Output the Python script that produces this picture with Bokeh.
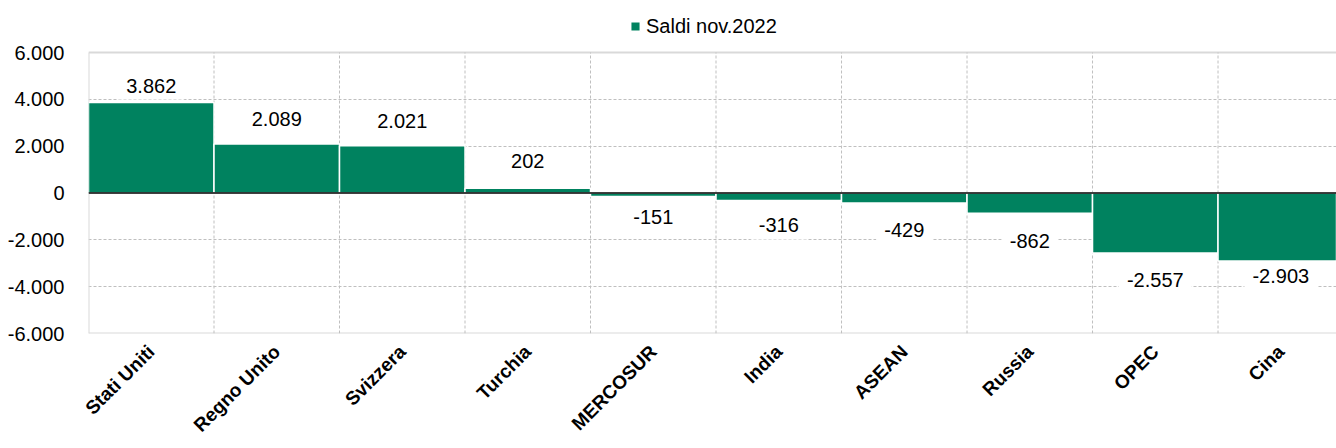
from bokeh.plotting import figure
from bokeh.models import (ColumnDataSource, Range1d, FixedTicker, Span, Legend, LegendItem)
from bokeh.core.properties import value
from bokeh.embed import file_html
from bokeh.resources import INLINE
import math

categories = ["Stati Uniti", "Regno Unito", "Svizzera", "Turchia", "MERCOSUR",
              "India", "ASEAN", "Russia", "OPEC", "Cina"]
saldi = [3862, 2089, 2021, 202, -151, -316, -429, -862, -2557, -2903]
y_ticks = [-6000, -4000, -2000, 0, 2000, 4000, 6000]
series_name = "Saldi nov.2022"

# label distance from bar end (px, away from bar)
label_shift = [17, 25, 25, 27, 20, 25, 27, 28, 27, 15]

FONT = "Liberation Sans"
GREEN = "#00825F"
GRID = "#BFBFBF"
BORDER = "#D9D9D9"

def fmt(v):
    return f"{v:,}".replace(",", ".")

# layout: plot area (y_ticks span) is 281 px tall, with 52 px of headroom for the legend
AREA_PX, HEAD_PX, BOTTOM_PX = 281, 52, 115
y_lo, y_hi = min(y_ticks), max(y_ticks)
y_top = y_hi + HEAD_PX / AREA_PX * (y_hi - y_lo)

xs = [i + 0.5 for i in range(len(categories))]
src = ColumnDataSource(dict(
    x=xs, top=saldi, lab=[fmt(v) for v in saldi],
    yoff=[(-s if v >= 0 else s) for v, s in zip(saldi, label_shift)],
))

p = figure(width=1336, height=448, output_backend="svg", toolbar_location=None,
           x_range=Range1d(0, 9.944), y_range=Range1d(y_lo, y_top),
           min_border_left=88, min_border_right=0, min_border_top=0,
           min_border_bottom=BOTTOM_PX)
p.outline_line_color = None
p.background_fill_color = "white"
p.xgrid.visible = False

# vertical grid lines between categories, within the plot area
bounds = list(range(1, len(categories)))
p.segment(x0=bounds, x1=bounds, y0=[y_lo] * len(bounds), y1=[y_hi] * len(bounds),
          line_color=GRID, line_dash="3 2", line_width=1)
# plot area left border
p.segment(x0=[0], x1=[0], y0=[y_lo], y1=[y_hi], line_color=BORDER, line_width=2)

bars = p.vbar(x="x", top="top", width=1.0, bottom=0, source=src,
              fill_color=GREEN, line_color="white", line_width=1.5)

p.text(x="x", y="top", text="lab", source=src, y_offset="yoff",
       text_font=value(FONT), text_font_size="20px", text_color="#000000",
       text_align="center", text_baseline="middle",
       background_fill_color="white",
       padding=dict(left=8, right=8, top=7, bottom=7))

# axes
p.yaxis.ticker = FixedTicker(ticks=y_ticks)
p.yaxis.major_label_overrides = {t: fmt(t) for t in y_ticks}
p.yaxis.axis_line_color = None
p.yaxis.major_tick_line_color = None
p.yaxis.minor_tick_line_color = None
p.yaxis.major_tick_out = 0
p.yaxis.major_label_standoff = 24
p.yaxis.major_label_text_font = FONT
p.yaxis.major_label_text_font_size = "20px"
p.yaxis.major_label_text_color = "#000000"

p.xaxis.ticker = FixedTicker(ticks=xs)
p.xaxis.major_label_overrides = {x: c for x, c in zip(xs, categories)}
p.xaxis.axis_line_color = None
p.xaxis.major_tick_line_color = None
p.xaxis.minor_tick_line_color = None
p.xaxis.major_tick_out = 0
p.xaxis.major_label_standoff = 15
p.xaxis.major_label_orientation = math.pi / 4
p.xaxis.major_label_text_font = FONT
p.xaxis.major_label_text_font_size = "19px"
p.xaxis.major_label_text_font_style = "bold"
p.xaxis.major_label_text_color = "#000000"

# horizontal grid
p.ygrid.ticker = FixedTicker(ticks=[t for t in y_ticks if t not in (0, y_lo, y_hi)])
p.ygrid.grid_line_color = GRID
p.ygrid.grid_line_dash = "3 2"
p.ygrid.grid_line_width = 1

# plot area border (top, bottom)
for loc in (y_hi, y_lo):
    p.add_layout(Span(location=loc, dimension="width", line_color=BORDER,
                      line_width=2, level="underlay"))
# zero line
p.add_layout(Span(location=0, dimension="width", line_color="#000000",
                  line_width=1.5))

legend = Legend(items=[LegendItem(label=series_name, renderers=[bars])],
                location=(541, AREA_PX + 14), orientation="horizontal",
                border_line_color=None, background_fill_alpha=0,
                padding=0, margin=0, glyph_width=12, glyph_height=12,
                label_standoff=5, label_text_font=FONT, label_height=24,
                label_text_font_size="20px", label_text_color="#000000")
p.add_layout(legend)

open("out.html", "w").write(file_html(p, INLINE))
